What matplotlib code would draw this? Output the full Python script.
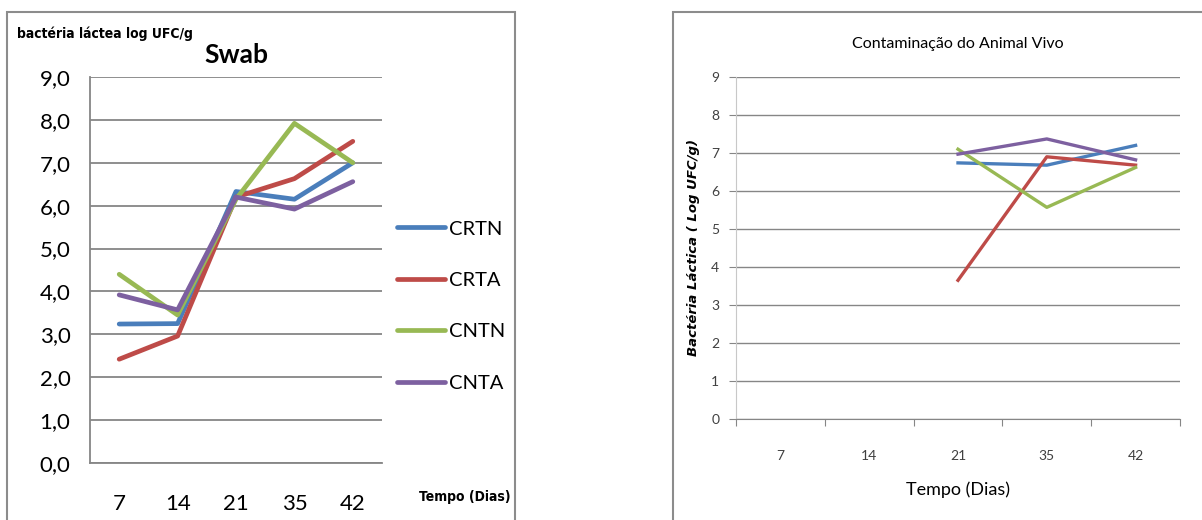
import matplotlib
matplotlib.use("Agg")
import matplotlib.pyplot as plt
from matplotlib.patches import Rectangle
import numpy as np

plt.rcParams['font.family'] = ['Lato', 'DejaVu Sans']

dias = ['7', '14', '21', '35', '42']
series_names = ['CRTN', 'CRTA', 'CNTN', 'CNTA']
colors = ['#4A7EBB', '#BE4B48', '#98B954', '#7D60A0']

# Swab (left)
swab_crtn = [3.24, 3.25, 6.33, 6.15, 7.0]
swab_crta = [2.42, 2.96, 6.2, 6.63, 7.5]
swab_cntn = [4.4, 3.45, 6.15, 7.92, 7.0]
swab_cnta = [3.92, 3.57, 6.2, 5.92, 6.56]

# Contaminacao do animal vivo (right), only days 21-42
vivo_crtn = [None, None, 6.74, 6.68, 7.2]
vivo_crta = [None, None, 3.65, 6.9, 6.68]
vivo_cntn = [None, None, 7.1, 5.57, 6.62]
vivo_cnta = [None, None, 6.97, 7.37, 6.82]

W, H = 1202, 520
fig = plt.figure(figsize=(W / 100, H / 100), dpi=100)

def px(x, y, w, h):
    return [x / W, 1 - (y + h) / H, w / W, h / H]

# outer chart frames
fig.patches.append(Rectangle((7 / W, -0.05), 508 / W, 1 - 12 / H + 0.05, transform=fig.transFigure,
                             fill=False, edgecolor='#8c8c8c', linewidth=1.5))
fig.patches.append(Rectangle((673 / W, -0.05), 560 / W, 1 - 12 / H + 0.05, transform=fig.transFigure,
                             fill=False, edgecolor='#8c8c8c', linewidth=1.5))

grid_c = '#868686'
narrow = ['Liberation Sans Narrow', 'DejaVu Sans']

# ---- left chart ----
ax1 = fig.add_axes(px(90, 77, 292, 386))
x = np.arange(len(dias))
for vals, name, c in zip([swab_crtn, swab_crta, swab_cntn, swab_cnta], series_names, colors):
    ax1.plot(x, vals, color=c, linewidth=3.4, label=name, solid_capstyle='round')
ax1.set_xlim(-0.5, 4.5)
ax1.set_ylim(0, 9)
ax1.set_yticks(np.arange(0, 10, 1))
ax1.set_yticklabels([f'{v:.1f}'.replace('.', ',') for v in np.arange(0, 10, 1)], fontsize=16)
ax1.set_xticks(x)
ax1.set_xticklabels(dias, fontsize=16)
ax1.tick_params(length=0, pad=14)
ax1.tick_params(axis='x', pad=22)
ax1.yaxis.grid(True, color=grid_c, linewidth=1.3)
ax1.set_axisbelow(True)
for s in ['top', 'right']:
    ax1.spines[s].set_visible(False)
for s in ['left', 'bottom']:
    ax1.spines[s].set_color(grid_c)
    ax1.spines[s].set_linewidth(1.3)
ax1.set_title('Swab', fontsize=19, fontweight='bold', pad=10)
ax1.legend(loc='center left', bbox_to_anchor=((397 - 90) / 292, (463 - 306) / 386), frameon=False,
           fontsize=14.5, handlelength=2.4, labelspacing=1.7, handletextpad=0.2,
           borderaxespad=0, borderpad=0)
fig.text(17 / W, 1 - 34 / H, 'bactéria láctea log UFC/g', fontsize=10, fontweight='bold',
         fontstretch='condensed', family=narrow, va='center', ha='left')
fig.text(465 / W, 1 - 497 / H, 'Tempo (Dias)', fontsize=10, fontweight='bold',
         fontstretch='condensed', family=narrow, va='center', ha='center')

# ---- right chart ----
ax2 = fig.add_axes(px(736, 77, 444, 342))
for vals, name, c in zip([vivo_crtn, vivo_crta, vivo_cntn, vivo_cnta], series_names, colors):
    v = np.array([np.nan if a is None else a for a in vals], dtype=float)
    ax2.plot(x, v, color=c, linewidth=2.4, label=name)
ax2.set_xlim(-0.5, 4.5)
ax2.set_ylim(0, 9)
ax2.set_yticks(np.arange(0, 10, 1))
ax2.set_yticklabels([str(v) for v in range(10)], fontsize=10, color='#404040')
ax2.set_xticks(np.arange(-0.5, 5, 1))
ax2.set_xticklabels([])
ax2.set_xticks(x, minor=True)
ax2.set_xticklabels(dias, minor=True, fontsize=10, color='#404040')
ax2.tick_params(axis='x', which='major', length=5, color=grid_c)
ax2.tick_params(axis='x', which='minor', length=0, pad=22)
ax2.tick_params(axis='y', length=5, color=grid_c, pad=7)
ax2.yaxis.grid(True, color=grid_c, linewidth=1.0)
ax2.set_axisbelow(True)
ax2.spines['top'].set_visible(False)
ax2.spines['right'].set_visible(False)
ax2.spines['left'].set_color('#c8c8c8')
ax2.spines['bottom'].set_color(grid_c)
ax2.set_title('Contaminação do Animal Vivo', fontsize=11.5, pad=21)
ax2.set_xlabel('Tempo (Dias)', fontsize=13, labelpad=14)
ax2.set_ylabel('Bactéria Láctica ( Log UFC/g)', fontsize=9.5, fontweight='bold', style='italic',
               family=['DejaVu Sans'], labelpad=8)

fig.savefig('out.png', dpi=100)
